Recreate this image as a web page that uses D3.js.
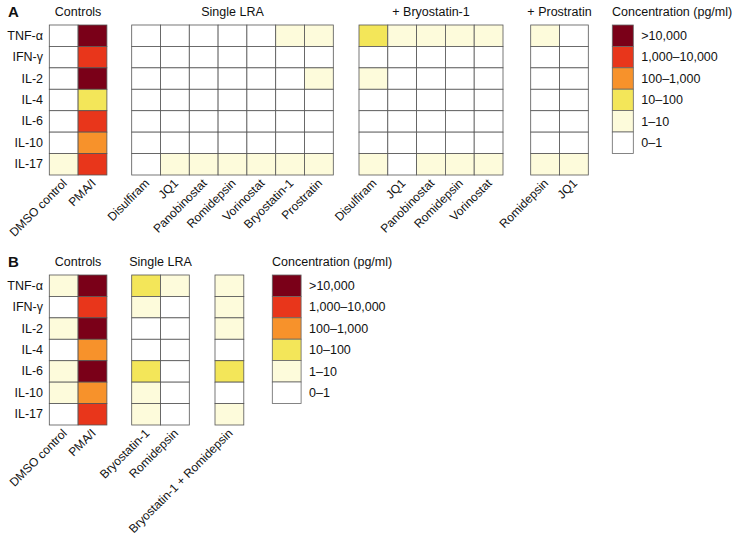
<!DOCTYPE html>
<html><head><meta charset="utf-8">
<script src="https://cdn.jsdelivr.net/npm/d3@7"></script>
<style>
body{margin:0;background:#fff;}
text{font-family:"Liberation Sans",Arial,Helvetica,sans-serif;fill:#111;}
</style></head>
<body><svg id="c" width="732" height="539"></svg>
<script>
// ---- data ----
const cytokines = ["TNF-α","IFN-γ","IL-2","IL-4","IL-6","IL-10","IL-17"];
// level codes: 0 = 0–1, 1 = 1–10, 2 = 10–100, 3 = 100–1,000, 4 = 1,000–10,000, 5 = >10,000
const levels = [5,4,3,2,1,0];
const levelLabels = [">10,000","1,000–10,000","100–1,000","10–100","1–10","0–1"];
const levelColors = ["#7a0018","#e8361b","#f7922b","#f3e659","#fdfbdb","#ffffff"];
const legendTitle = "Concentration (pg/ml)";

// Panel A
const aControlsCols = ["DMSO control","PMA/I"];
const aControlsVals = [[0,0,0,0,0,0,1],[5,4,5,2,4,3,4]];
const aSingleCols = ["Disulfiram","JQ1","Panobinostat","Romidepsin","Vorinostat","Bryostatin-1","Prostratin"];
const aSingleVals = [[0,0,0,0,0,0,0],[0,0,0,0,0,0,1],[0,0,0,0,0,0,1],[0,0,0,0,0,0,1],[0,0,0,0,0,0,1],[1,0,0,0,0,0,1],[1,0,1,0,0,0,1]];
const aBryoCols = ["Disulfiram","JQ1","Panobinostat","Romidepsin","Vorinostat"];
const aBryoVals = [[2,0,1,0,0,0,1],[1,0,0,0,0,0,0],[1,0,0,0,0,0,1],[1,0,0,0,0,0,1],[1,0,0,0,0,0,1]];
const aProsCols = ["Romidepsin","JQ1"];
const aProsVals = [[1,0,0,0,0,0,1],[0,0,0,0,0,0,1]];

// Panel B
const bControlsCols = ["DMSO control","PMA/I"];
const bControlsVals = [[1,0,1,0,1,1,0],[5,4,5,3,5,3,4]];
const bSingleCols = ["Bryostatin-1","Romidepsin"];
const bSingleVals = [[2,1,0,0,2,1,1],[1,0,0,0,0,0,0]];
const bComboCols = ["Bryostatin-1 + Romidepsin"];
const bComboVals = [[1,1,1,0,2,0,1]];

const groupTitles = {controls:"Controls", single:"Single LRA", bryo:"+ Bryostatin-1", pros:"+ Prostratin"};

// ---- drawing ----
const svg = d3.select("#c");
const color = d3.scaleOrdinal().domain(levels).range(levelColors);
const CELL = 28.8;

function drawPanel(top, groups, rowLabels) {
  const y = d3.scaleBand().domain(cytokines).range([top, top + 150]).padding(0);
  if (rowLabels) {
    const ax = svg.append("g").attr("transform", `translate(43,0)`)
      .call(d3.axisLeft(y).tickSize(0).tickPadding(0));
    ax.select(".domain").remove();
    ax.selectAll("text").style("font-size","12.5px").attr("font-family",null);
  }
  groups.forEach(g => {
    const x = d3.scaleBand().domain(g.cols.map((c,i)=>i)).range([g.x0, g.x0 + CELL*g.cols.length]).padding(0);
    const gg = svg.append("g");
    g.vals.forEach((col, ci) => {
      gg.selectAll(null).data(col).enter().append("rect")
        .attr("x", x(ci)).attr("y", (d,i)=>y(cytokines[i]))
        .attr("width", x.bandwidth()).attr("height", y.bandwidth())
        .attr("fill", d=>color(d)).attr("stroke","#555").attr("stroke-width",0.8);
    });
    if (g.title) {
      svg.append("text").attr("x", g.x0 + CELL*g.cols.length/2 + (g.titleDx||0)).attr("y", top - 9)
        .attr("text-anchor","middle").style("font-size","12.5px").text(g.title);
    }
    const ax = svg.append("g").attr("transform", `translate(0,${top+150})`)
      .call(d3.axisBottom(x).tickSize(0).tickFormat(i=>g.cols[i]));
    ax.select(".domain").remove();
    ax.selectAll("text").attr("font-family",null).style("font-size","12px")
      .attr("text-anchor","end").attr("dy",null).attr("y",0)
      .attr("transform","translate(4,9) rotate(-45)");
  });
}

function drawLegend(x0, top, w, titleX) {
  const y = d3.scaleBand().domain(levels).range([top, top + 128.4]);
  svg.append("text").attr("x", titleX).attr("y", top - 9).style("font-size","12.5px").text(legendTitle);
  svg.selectAll(null).data(levels).enter().append("rect")
    .attr("x", x0).attr("y", d=>y(d)).attr("width", w).attr("height", y.bandwidth())
    .attr("fill", d=>color(d)).attr("stroke","#666").attr("stroke-width",0.8);
  svg.selectAll(null).data(levels).enter().append("text")
    .attr("x", x0 + w + 8).attr("y", d=>y(d)+y.bandwidth()/2).attr("dy","0.35em")
    .style("font-size","12.5px").text((d,i)=>levelLabels[i]);
}

// Panel A
svg.append("text").attr("x",8).attr("y",17).style("font-size","15px").style("font-weight","bold").text("A");
drawPanel(25, [
  {x0:49.3, cols:aControlsCols, vals:aControlsVals, title:groupTitles.controls},
  {x0:131.7, cols:aSingleCols, vals:aSingleVals, title:groupTitles.single},
  {x0:359, cols:aBryoCols, vals:aBryoVals, title:groupTitles.bryo},
  {x0:530.7, cols:aProsCols, vals:aProsVals, title:groupTitles.pros}
], true);
drawLegend(612.3, 25, 21, 612);

// Panel B
svg.append("text").attr("x",8).attr("y",267).style("font-size","15px").style("font-weight","bold").text("B");
drawPanel(275, [
  {x0:49.3, cols:bControlsCols, vals:bControlsVals, title:groupTitles.controls},
  {x0:131.7, cols:bSingleCols, vals:bSingleVals, title:groupTitles.single},
  {x0:215, cols:bComboCols, vals:bComboVals, title:null}
], true);
drawLegend(272.3, 275, 28.8, 272);
</script></body></html>
